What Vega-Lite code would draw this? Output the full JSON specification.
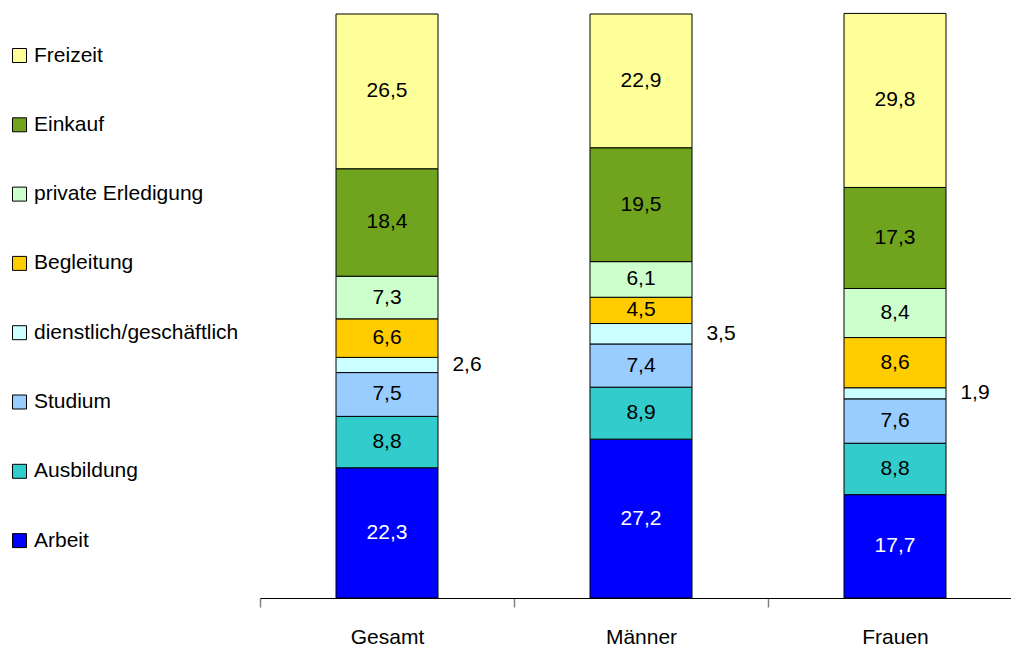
{
  "$schema": "https://vega.github.io/schema/vega-lite/v6.json",
  "autosize": {"type": "none"},
  "padding": {"left": 260, "top": 14, "right": 0, "bottom": 52},
  "width": 751,
  "height": 584,
  "background": "white",
  "config": {
    "view": {"stroke": null},
    "font": "Liberation Sans",
    "locale": {"number": {"decimal": ",", "thousands": ".", "grouping": [3], "currency": ["", " €"]}}
  },
  "data": {
    "values": [
      {"Gruppe": "Gesamt", "Zweck": "Arbeit", "o": 1, "v": 22.3},
      {"Gruppe": "Gesamt", "Zweck": "Ausbildung", "o": 2, "v": 8.8},
      {"Gruppe": "Gesamt", "Zweck": "Studium", "o": 3, "v": 7.5},
      {"Gruppe": "Gesamt", "Zweck": "dienstlich/geschäftlich", "o": 4, "v": 2.6},
      {"Gruppe": "Gesamt", "Zweck": "Begleitung", "o": 5, "v": 6.6},
      {"Gruppe": "Gesamt", "Zweck": "private Erledigung", "o": 6, "v": 7.3},
      {"Gruppe": "Gesamt", "Zweck": "Einkauf", "o": 7, "v": 18.4},
      {"Gruppe": "Gesamt", "Zweck": "Freizeit", "o": 8, "v": 26.5},
      {"Gruppe": "Männer", "Zweck": "Arbeit", "o": 1, "v": 27.2},
      {"Gruppe": "Männer", "Zweck": "Ausbildung", "o": 2, "v": 8.9},
      {"Gruppe": "Männer", "Zweck": "Studium", "o": 3, "v": 7.4},
      {"Gruppe": "Männer", "Zweck": "dienstlich/geschäftlich", "o": 4, "v": 3.5},
      {"Gruppe": "Männer", "Zweck": "Begleitung", "o": 5, "v": 4.5},
      {"Gruppe": "Männer", "Zweck": "private Erledigung", "o": 6, "v": 6.1},
      {"Gruppe": "Männer", "Zweck": "Einkauf", "o": 7, "v": 19.5},
      {"Gruppe": "Männer", "Zweck": "Freizeit", "o": 8, "v": 22.9},
      {"Gruppe": "Frauen", "Zweck": "Arbeit", "o": 1, "v": 17.7},
      {"Gruppe": "Frauen", "Zweck": "Ausbildung", "o": 2, "v": 8.8},
      {"Gruppe": "Frauen", "Zweck": "Studium", "o": 3, "v": 7.6},
      {"Gruppe": "Frauen", "Zweck": "dienstlich/geschäftlich", "o": 4, "v": 1.9},
      {"Gruppe": "Frauen", "Zweck": "Begleitung", "o": 5, "v": 8.6},
      {"Gruppe": "Frauen", "Zweck": "private Erledigung", "o": 6, "v": 8.4},
      {"Gruppe": "Frauen", "Zweck": "Einkauf", "o": 7, "v": 17.3},
      {"Gruppe": "Frauen", "Zweck": "Freizeit", "o": 8, "v": 29.8}
    ]
  },
  "encoding": {
    "x": {
      "field": "Gruppe", "type": "nominal", "sort": ["Gesamt", "Männer", "Frauen"],
      "scale": {"paddingInner": 0, "paddingOuter": 0, "range": [0, 762]},
      "axis": {
        "title": null, "labelAngle": 0, "labelFontSize": 21, "labelColor": "black",
        "labelPadding": 19, "domainColor": "black", "domainWidth": 1,
        "tickBand": "extent", "tickColor": "#808080", "tickSize": 9, "tickWidth": 1.5
      }
    },
    "y": {
      "field": "v", "type": "quantitative", "stack": "zero",
      "scale": {"domain": [0, 100], "nice": false, "zero": true},
      "axis": null
    },
    "order": {"field": "o", "type": "quantitative"}
  },
  "layer": [
    {
      "mark": {"type": "bar", "width": 102, "stroke": "black", "strokeWidth": 1},
      "encoding": {
        "color": {
          "field": "Zweck", "type": "nominal",
          "scale": {
            "domain": ["Freizeit", "Einkauf", "private Erledigung", "Begleitung", "dienstlich/geschäftlich", "Studium", "Ausbildung", "Arbeit"],
            "range": ["#FFFF99", "#70A41E", "#CCFFCC", "#FFCC00", "#CCFFFF", "#99CCFF", "#33CCCC", "#0000FF"]
          },
          "legend": {
            "title": null, "orient": "none", "legendX": -251, "legendY": 31,
            "symbolType": "square", "symbolSize": 196, "symbolStrokeColor": "black",
            "symbolStrokeWidth": 1, "symbolOpacity": 1,
            "labelFontSize": 21, "labelColor": "black", "labelOffset": 4,
            "rowPadding": 47.3, "padding": 0, "labelLimit": 300
          }
        }
      }
    },
    {
      "mark": {"type": "text", "fontSize": 21},
      "encoding": {
        "y": {"field": "v", "type": "quantitative", "stack": "zero", "bandPosition": 0.5},
        "text": {
          "condition": {"test": "datum.Zweck === 'dienstlich/geschäftlich'", "value": ""},
          "field": "v", "type": "quantitative", "format": ".1f"
        },
        "color": {
          "condition": {"test": "datum.Zweck === 'Arbeit'", "value": "white"},
          "value": "black"
        }
      }
    },
    {
      "mark": {"type": "text", "fontSize": 21, "dx": 80, "color": "black"},
      "encoding": {
        "y": {"field": "v", "type": "quantitative", "stack": "zero", "bandPosition": 0.5},
        "text": {
          "condition": {"test": "datum.Zweck !== 'dienstlich/geschäftlich'", "value": ""},
          "field": "v", "type": "quantitative", "format": ".1f"
        }
      }
    }
  ]
}
